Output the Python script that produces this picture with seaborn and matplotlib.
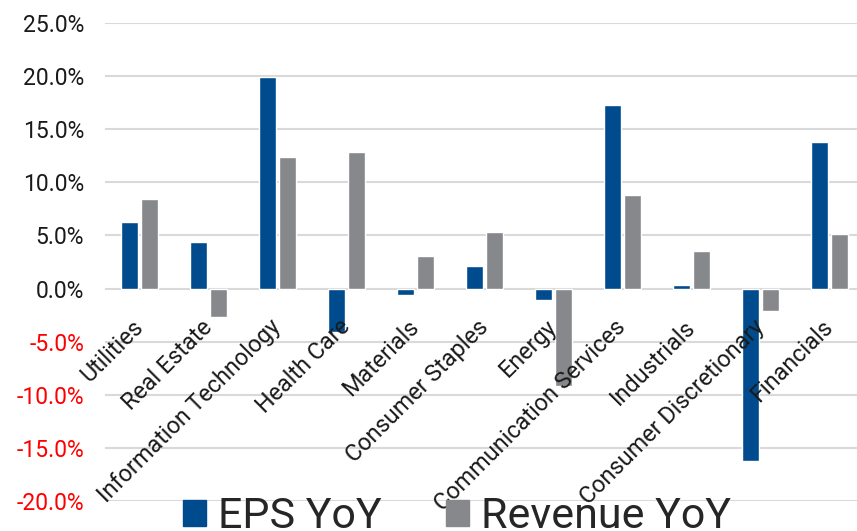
import pandas as pd
import matplotlib.pyplot as plt
import seaborn as sns
from matplotlib.ticker import FuncFormatter
from matplotlib.transforms import ScaledTranslation

# 数据
sectors = ['Utilities', 'Real Estate', 'Information Technology', 'Health Care',
           'Materials', 'Consumer Staples', 'Energy', 'Communication Services',
           'Industrials', 'Consumer Discretionary', 'Financials']
eps_yoy = [6.3, 4.4, 19.9, -4.1, -0.6, 2.1, -1.1, 17.3, 0.3, -16.2, 13.8]
rev_yoy = [8.4, -2.7, 12.4, 12.9, 3.1, 5.3, -9.2, 8.8, 3.5, -2.1, 5.1]
series_names = ['EPS YoY', 'Revenue YoY']
yticks = [-20, -15, -10, -5, 0, 5, 10, 15, 20, 25]

sns.set_theme(style='white')
plt.rcParams['font.family'] = ['Roboto', 'DejaVu Sans']

df = pd.DataFrame({
    'sector': sectors * 2,
    'value': eps_yoy + rev_yoy,
    'series': [series_names[0]] * len(sectors) + [series_names[1]] * len(sectors),
})

fig = plt.figure(figsize=(8.57, 5.31), dpi=100)
ax = fig.add_axes([105 / 857, 1 - 501 / 531, 1 - 105 / 857, (501 - 23) / 531])

sns.barplot(data=df, x='sector', y='value', hue='series', order=sectors,
            hue_order=series_names, palette=['#004B8D', '#87888C'],
            width=0.58, gap=0.18, ax=ax, legend=False, saturation=1)

ax.set_ylim(-20, 25)
ax.set_xlim(-0.5, 10.4)
ax.set_yticks(yticks)
ax.yaxis.set_major_formatter(FuncFormatter(lambda v, p: f'{v:.1f}%'))
ax.grid(axis='y', color='#D9D9D9', linewidth=1.5)
ax.set_axisbelow(True)
for s in ax.spines.values():
    s.set_visible(False)
ax.tick_params(axis='y', length=0, pad=15, labelsize=16.5)
ax.set_xticks([])
ax.set_xlabel('')
ax.set_ylabel('')

# 负值红色
for t, lab in zip(yticks, ax.get_yticklabels()):
    lab.set_color('#FF0000' if t < 0 else '#1A1A1A')

# 类别标签放在0线下方, 压在柱子上面
shift = ScaledTranslation(0.0, -0.35, fig.dpi_scale_trans)
for i, name in enumerate(sectors):
    ax.text(i, 0, name, transform=ax.transData + shift, rotation=45,
            ha='right', va='center', rotation_mode='anchor',
            fontsize=16.8, color='#1A1A1A', zorder=5)

handles = [plt.Rectangle((0, 0), 1, 1, color='#004B8D'),
           plt.Rectangle((0, 0), 1, 1, color='#87888C')]
fig.legend(handles, series_names, loc='center', ncol=2, frameon=False,
           bbox_to_anchor=(457 / 857, 1 - 517 / 531), fontsize=31,
           handlelength=0.55, handleheight=0.55, handletextpad=0.28,
           columnspacing=1.48, borderpad=0)

fig.savefig('out.png', dpi=100)
